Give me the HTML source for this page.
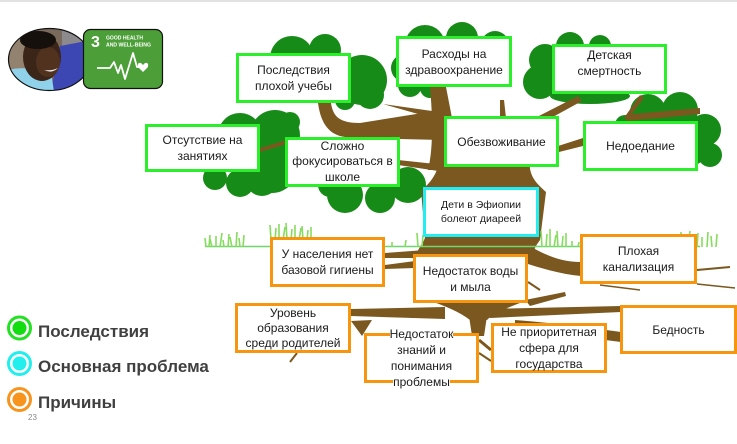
<!DOCTYPE html>
<html><head><meta charset="utf-8">
<style>
html,body{margin:0;padding:0;background:#fff;}
#w{position:relative;width:737px;height:444px;overflow:hidden;background:#fff;font-family:"Liberation Sans",sans-serif;}
svg{position:absolute;left:0;top:0;}
.b{position:absolute;box-sizing:border-box;border:3px solid;background:#fff;display:flex;align-items:center;justify-content:center;text-align:center;font-size:12px;line-height:16px;color:#1a1a1a;}
.g{border-color:#2cef2c;}
.o{border-color:#f7950f;}
.c{border-color:#20eef2;}
.ov span{background:#fff;}
</style></head><body><div id="w">
<svg width="737" height="444" viewBox="0 0 737 444">
<rect x="0" y="0" width="737" height="2" fill="#e2e2e2"/>
<defs><clipPath id="ph"><ellipse cx="49.5" cy="59.5" rx="41" ry="31"/></clipPath></defs>
<g clip-path="url(#ph)">
<rect x="8" y="28" width="84" height="64" fill="#7a6a5c"/>
<rect x="8" y="28" width="25" height="45" fill="#93826f"/>
<rect x="62" y="28" width="30" height="18" fill="#8c8a8c"/>
<path d="M60,46 L92,40 L92,92 L50,92 L55,72 Z" fill="#3c47b3"/>
<path d="M8,70 Q30,64 52,78 L54,92 L8,92 Z" fill="#8fd2ea"/>
<ellipse cx="42" cy="57" rx="19" ry="24" fill="#3b2519"/>
<ellipse cx="48" cy="62" rx="12" ry="15" fill="#51321f"/>
<ellipse cx="38" cy="40" rx="18" ry="9" fill="#15100c"/>
<path d="M44,70 Q52,74 58,68 Q52,71 44,70 Z" fill="#eee"/>
</g>
<ellipse cx="49.5" cy="59.5" rx="41" ry="31" fill="none" stroke="#111" stroke-width="1.2"/>
<rect x="83.5" y="29.5" width="79" height="59" rx="7" fill="#4c9f38" stroke="#111" stroke-width="1.2"/>
<text x="91" y="47" font-family="Liberation Sans" font-size="16" font-weight="bold" fill="#fff">3</text>
<text x="106" y="39.5" font-family="Liberation Sans" font-size="5.5" font-weight="bold" fill="#fff" textLength="37" lengthAdjust="spacingAndGlyphs">GOOD HEALTH</text>
<text x="106" y="46.5" font-family="Liberation Sans" font-size="5.5" font-weight="bold" fill="#fff" textLength="45" lengthAdjust="spacingAndGlyphs">AND WELL-BEING</text>
<polyline points="97,68 110,68 114,62 118,73 121,65 125,79 133,53 137,67 139,67" fill="none" stroke="#fff" stroke-width="1.8" stroke-linejoin="round"/>
<path d="M143,72 L138,67 Q137,62 141,63 L143,65 L145,63 Q149,62 148,67 Z" fill="#fff"/>

<!-- canopy -->
<g fill="#178b17">
<circle cx="292" cy="58" r="22"/><circle cx="325" cy="50" r="16"/><circle cx="362" cy="80" r="25"/><circle cx="370" cy="95" r="14"/><circle cx="345" cy="100" r="10"/>
<circle cx="240" cy="135" r="22"/><circle cx="275" cy="135" r="25"/><circle cx="272" cy="168" r="25"/><circle cx="215" cy="178" r="12"/><circle cx="240" cy="183" r="14"/><circle cx="262" cy="180" r="16"/><circle cx="290" cy="122" r="10"/>
<circle cx="345" cy="195" r="18"/><circle cx="380" cy="198" r="15"/><circle cx="408" cy="185" r="18"/><circle cx="330" cy="185" r="12"/>
<circle cx="425" cy="45" r="20"/><circle cx="462" cy="38" r="16"/><circle cx="495" cy="45" r="14"/><ellipse cx="460" cy="60" rx="50" ry="25"/><circle cx="405" cy="68" r="14"/><circle cx="410" cy="85" r="12"/><circle cx="430" cy="88" r="10"/>
<circle cx="545" cy="60" r="16"/><circle cx="540" cy="82" r="17"/><circle cx="570" cy="46" r="14"/><circle cx="600" cy="46" r="11"/><ellipse cx="585" cy="75" rx="45" ry="25"/><ellipse cx="590" cy="96" rx="40" ry="8"/>
<circle cx="648" cy="112" r="18"/><circle cx="680" cy="110" r="18"/><circle cx="705" cy="130" r="16"/><circle cx="710" cy="155" r="12"/><circle cx="625" cy="125" r="10"/><ellipse cx="675" cy="140" rx="38" ry="30"/>
</g>

<!-- trunk & branches -->
<g fill="#7a581f" stroke="none">
<path d="M318,103 L331,103 C333,117 340,123 360,123 L435,111 L442,140 L400,139 L345,137 C330,135 321,125 318,103 Z"/>
<path d="M383,104 L432,111 L432,118 Z"/>
<path d="M430,87 L446,87 L452,118 L450,170 L428,170 C433,150 433,120 430,87 Z"/>
<path d="M440,160 L530,158 C528,175 535,182 546,192 L540,240 C536,246 532,250 536,256 L415,256 C420,246 425,240 425,237 L421,190 C430,184 437,174 440,160 Z"/>
<path d="M500,100 L504,100 L506,118 L500,118 Z"/>
<path d="M535,118 L578,96 L582,101 L540,124 Z"/>
<path d="M555,147 L583,138 L583,146 L555,153 Z"/>
<path d="M624,118 L640,95 L644,98 L632,114 L700,108 L700,114 L628,121 Z"/>
<path d="M398,160 L445,165 L445,172 L398,165 Z"/>
<path d="M260,148 L290,139 L290,143 L260,152 Z"/>
<!-- roots -->
<path d="M385,253 L425,250 L425,258 L385,258 Z"/>
<path d="M385,265 L415,261 L415,268 L385,269 Z"/>
<path d="M522,242 C545,255 560,262 581,262 L581,276 C560,274 540,268 522,262 Z"/>
<path d="M428,300 L528,300 C512,306 495,312 487,320 L470,320 C460,312 445,306 428,300 Z"/>
<path d="M351,309 L445,307 L445,319 L351,316 Z"/>
<path d="M351,321 L372,320 L362,336 Z"/>
<path d="M469,316 L487,316 L484,336 L472,336 Z"/>
<path d="M483,309 L621,306 L621,312 L490,318 Z"/>
<path d="M515,320 C565,324 598,329 621,332 L621,342 C590,338 555,334 515,330 Z"/>
<path d="M525,300 L565,292 L566,296 L530,306 Z"/>
</g>
<g stroke="#7a581f" fill="none">
<line x1="697" y1="270" x2="730" y2="267" stroke-width="2"/>
<line x1="600" y1="285" x2="640" y2="290" stroke-width="1.5"/>
<line x1="697" y1="284" x2="735" y2="288" stroke-width="1.5"/>
<line x1="297" y1="353" x2="290" y2="362" stroke-width="2"/>
<line x1="479" y1="340" x2="491" y2="350" stroke-width="3"/>
<line x1="479" y1="353" x2="491" y2="361" stroke-width="2"/>
<line x1="528" y1="282" x2="540" y2="290" stroke-width="2"/>
</g>

<!-- grass -->
<line x1="205" y1="246.5" x2="700" y2="246.5" stroke="#6fd66f" stroke-width="1.5"/>
<path d="M206,247 l-1,-9 M209,247 l1,-12 M212,247 l-2,-8 M216,247 l0,-11 M220,247 l2,-14 M224,247 l-1,-7 M228,247 l1,-13 M232,247 l-2,-10 M236,247 l1,-15 M240,247 l-1,-9 M243,247 l1,-12 M271,240 l-1,-15 M275,240 l1,-12 M279,240 l0,-16 M283,240 l2,-13 M287,240 l-1,-17 M291,240 l1,-11 M295,240 l0,-15 M299,240 l2,-12 M303,240 l-1,-14 M307,240 l1,-10 M311,240 l0,-13 M318,247 l0,-6 M332,247 l1,-7 M347,247 l0,-5 M362,247 l1,-8 M376,247 l0,-6 M392,247 l0,-5 M405,247 l1,-7 M418,247 l-1,-14 M422,247 l1,-12 M542,247 l-1,-16 M546,247 l1,-13 M550,247 l0,-18 M554,247 l2,-12 M558,247 l-1,-16 M562,247 l1,-11 M566,247 l0,-14 M572,247 l0,-6 M578,247 l1,-5 M676,247 l-1,-12 M680,247 l1,-15 M684,247 l0,-10 M688,247 l2,-16 M692,247 l-1,-12 M697,247 l1,-14 M702,247 l0,-10 M707,247 l1,-15 M712,247 l-1,-11 M716,247 l1,-13" stroke="#86dc5e" stroke-width="1.6" fill="none"/>

<!-- legend -->
<circle cx="19.5" cy="328" r="11" fill="none" stroke="#22e022" stroke-width="3"/>
<circle cx="19.5" cy="328" r="7" fill="#11dd11"/>
<circle cx="19.5" cy="363.5" r="11" fill="none" stroke="#22eeee" stroke-width="3"/>
<circle cx="19.5" cy="363.5" r="7" fill="#22eeee"/>
<circle cx="19.5" cy="399.5" r="11" fill="none" stroke="#f7941d" stroke-width="3"/>
<circle cx="19.5" cy="399.5" r="7" fill="#f7941d"/>
<text x="38" y="337" font-family="Liberation Sans" font-size="17" font-weight="bold" fill="#404040">Последствия</text>
<text x="38" y="372" font-family="Liberation Sans" font-size="17" font-weight="bold" fill="#404040">Основная проблема</text>
<text x="38" y="408" font-family="Liberation Sans" font-size="17" font-weight="bold" fill="#404040">Причины</text>
<text x="28" y="420" font-family="Liberation Sans" font-size="8" fill="#888">23</text>
</svg>

<div class="b g" style="left:236px;top:53px;width:115px;height:50px;">Последствия<br>плохой учебы</div>
<div class="b g" style="left:396px;top:36px;width:116px;height:51px;">Расходы на<br>здравоохранение</div>
<div class="b g" style="left:552px;top:44px;width:115px;height:50px;padding-bottom:12px;">Детская<br>смертность</div>
<div class="b g" style="left:145px;top:124px;width:115px;height:48px;">Отсутствие на<br>занятиях</div>
<div class="b g" style="left:285px;top:137px;width:115px;height:50px;line-height:15.5px;">Сложно<br>фокусироваться в<br>школе</div>
<div class="b g" style="left:444px;top:116px;width:115px;height:51px;">Обезвоживание</div>
<div class="b g" style="left:583px;top:121px;width:115px;height:50px;">Недоедание</div>
<div class="b c" style="left:423px;top:187px;width:116px;height:50px;font-size:10.5px;line-height:14.5px;">Дети в Эфиопии<br>болеют диареей</div>
<div class="b o" style="left:270px;top:237px;width:115px;height:50px;">У населения нет<br>базовой гигиены</div>
<div class="b o" style="left:413px;top:254px;width:115px;height:49px;">Недостаток воды<br>и мыла</div>
<div class="b o" style="left:580px;top:234px;width:117px;height:50px;">Плохая<br>канализация</div>
<div class="b o" style="left:235px;top:303px;width:116px;height:50px;line-height:15px;">Уровень<br>образования<br>среди родителей</div>
<div class="b o ov" style="left:364px;top:333px;width:115px;height:50px;"><div><span>Недостаток</span><br><span>знаний и</span><br><span>понимания</span><br><span>проблемы</span></div></div>
<div class="b o" style="left:491px;top:323px;width:116px;height:50px;">Не приоритетная<br>сфера для<br>государства</div>
<div class="b o" style="left:620px;top:305px;width:117px;height:49px;">Бедность</div>
</div></body></html>
